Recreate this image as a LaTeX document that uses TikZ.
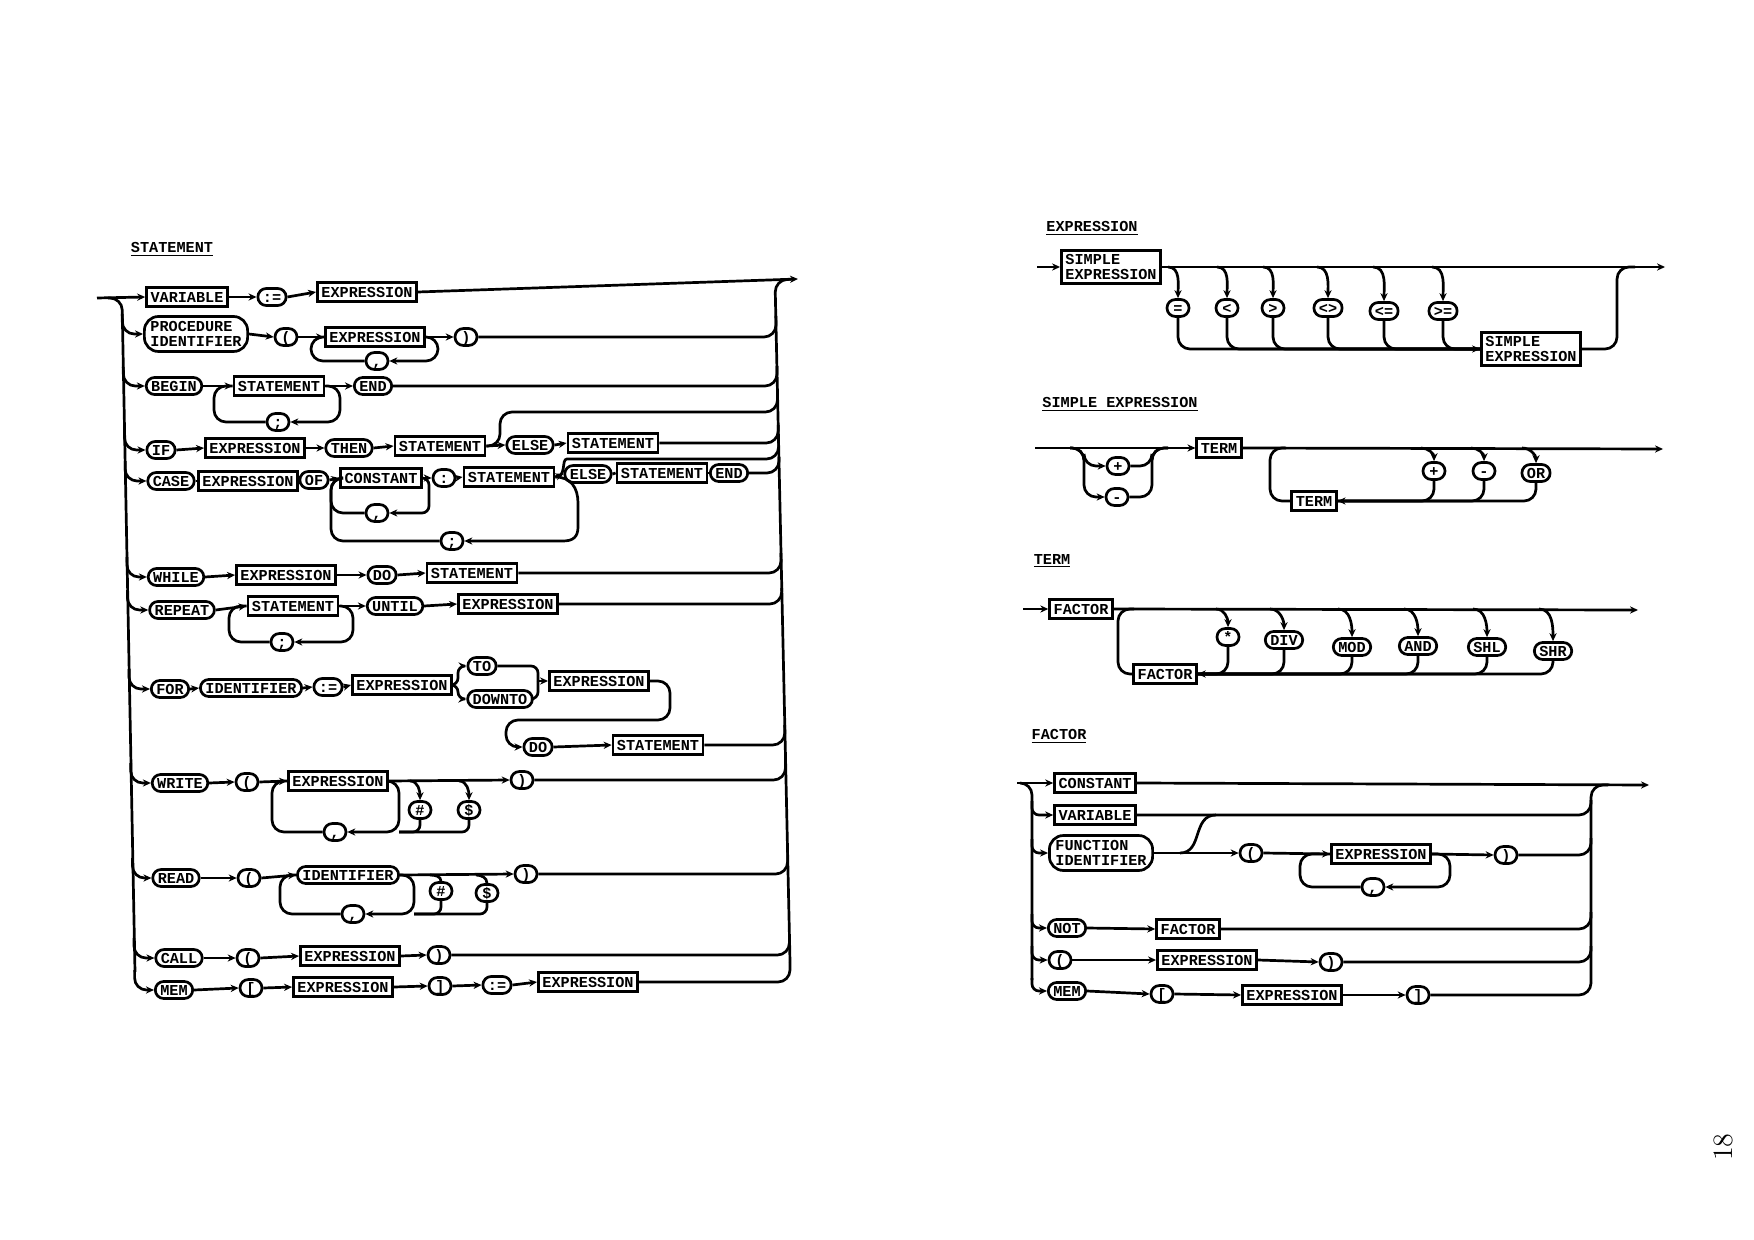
\documentclass[tikz,border=0pt]{standalone}
\usepackage{fontspec}
\setmonofont{Liberation Mono}
\usetikzlibrary{arrows.meta}
\newcommand\mylbl{\ttfamily\bfseries\fontsize{7.6}{9}\selectfont}
\newcommand\mylbltwo{\ttfamily\bfseries\fontsize{7.6}{7.4}\selectfont}
\begin{document}
\begin{tikzpicture}[x=0.5pt,y=-0.5pt,line width=1.35pt,
 bx/.style={draw,rectangle,inner xsep=2pt,inner ysep=2.2pt,text height=5.2pt,text depth=0pt,font=\mylbl},
 ov/.style={draw,rounded corners=4.2pt,minimum height=8.5pt,minimum width=11pt,inner xsep=2.5pt,inner ysep=1.6pt,text height=5.2pt,text depth=0pt,font=\mylbl},
 rb/.style={draw,rounded corners=7pt,inner xsep=3pt,inner ysep=2.5pt,align=left,font=\mylbltwo},
 bx2/.style={draw,rectangle,inner xsep=2pt,inner ysep=2pt,align=left,font=\mylbltwo},
 ttl/.style={inner sep=0pt,font=\mylbl},
 arr/.style={-{Stealth[length=4pt,width=3.6pt]}},
 rc/.style={rounded corners=6pt},
 rcs/.style={rounded corners=3.5pt}]
\useasboundingbox (0,0) rectangle (1754,1240);

% ================= STATEMENT =================
\node[ttl] (tS) at (172,249) {\underline{STATEMENT}};
\coordinate (Sin) at (97,298);
\coordinate (Sout) at (798,279);
\node[bx] (s1a) at (187,297) {VARIABLE};
\node[ov] (s1b) at (272,297) {:=};
\node[bx] (s1c) at (367,292) {EXPRESSION};

\node[rb] (s2a) at (196,334) {PROCEDURE\\IDENTIFIER};
\node[ov] (s2b) at (286,337) {(};
\node[bx] (s2c) at (375,337) {EXPRESSION};
\node[ov] (s2d) at (466,337) {)};
\node[ov] (s2e) at (377,361) {,};

\node[ov] (s3a) at (174,386) {BEGIN};
\node[bx] (s3b) at (279,386) {STATEMENT};
\node[ov] (s3c) at (373,386) {END};
\node[ov] (s3d) at (278,422) {;};

\node[ov] (s4a) at (161,450) {IF};
\node[bx] (s4b) at (255,448) {EXPRESSION};
\node[ov] (s4c) at (349,448) {THEN};
\node[bx] (s4d) at (440,446) {STATEMENT};
\node[ov] (s4e) at (530,445) {ELSE};
\node[bx] (s4f) at (613,443) {STATEMENT};

\node[ov] (s5a) at (171,481) {CASE};
\node[bx] (s5b) at (248,481) {EXPRESSION};
\node[ov] (s5c) at (314,480) {OF};
\node[bx] (s5d) at (381,478) {CONSTANT};
\node[ov] (s5e) at (444,478) {:};
\node[bx] (s5f) at (509,477) {STATEMENT};
\node[ov] (s5g) at (588,474) {ELSE};
\node[bx] (s5h) at (662,473) {STATEMENT};
\node[ov] (s5i) at (729,473) {END};
\node[ov] (s5j) at (377,513) {,};
\node[ov] (s5k) at (452,541) {;};

\node[ov] (s6a) at (176,577) {WHILE};
\node[bx] (s6b) at (286,575) {EXPRESSION};
\node[ov] (s6c) at (382,575) {DO};
\node[bx] (s6d) at (472,573) {STATEMENT};

\node[ov] (s7a) at (182,610) {REPEAT};
\node[bx] (s7b) at (293,606) {STATEMENT};
\node[ov] (s7c) at (395,606) {UNTIL};
\node[bx] (s7d) at (508,604) {EXPRESSION};
\node[ov] (s7e) at (282,642) {;};

\node[ov] (s8a) at (170,689) {FOR};
\node[ov] (s8b) at (251,688) {IDENTIFIER};
\node[ov] (s8c) at (328,687) {:=};
\node[bx] (s8d) at (402,685) {EXPRESSION};
\node[ov] (s8e) at (482,666) {TO};
\node[ov] (s8f) at (500,699) {DOWNTO};
\node[bx] (s8g) at (599,681) {EXPRESSION};
\node[ov] (s8h) at (538,747) {DO};
\node[bx] (s8i) at (658,745) {STATEMENT};

\node[ov] (s9a) at (180,783) {WRITE};
\node[ov] (s9b) at (247,782) {(};
\node[bx] (s9c) at (338,781) {EXPRESSION};
\node[ov] (s9d) at (522,780) {)};
\node[ov] (s9e) at (335,832) {,};
\node[ov] (s9f) at (420,810) {\#};
\node[ov] (s9g) at (469,810) {\$};

\node[ov] (s10a) at (176,878) {READ};
\node[ov] (s10b) at (249,878) {(};
\node[ov] (s10c) at (348,875) {IDENTIFIER};
\node[ov] (s10d) at (526,874) {)};
\node[ov] (s10e) at (353,914) {,};
\node[ov] (s10f) at (441,891) {\#};
\node[ov] (s10g) at (487,893) {\$};

\node[ov] (s11a) at (179,958) {CALL};
\node[ov] (s11b) at (248,958) {(};
\node[bx] (s11c) at (350,956) {EXPRESSION};
\node[ov] (s11d) at (439,955) {)};

\node[ov] (s12a) at (174,990) {MEM};
\node[ov] (s12b) at (251,988) {[};
\node[bx] (s12c) at (343,987) {EXPRESSION};
\node[ov] (s12d) at (440,986) {]};
\node[ov] (s12e) at (497,985) {:=};
\node[bx] (s12f) at (588,982) {EXPRESSION};

% trunk coordinates
\coordinate (Lt0) at (108,298); \coordinate (Lt1) at (122,298); \coordinate (Lb) at (135,972);
\coordinate (L2) at (122.3,314); \coordinate (L3) at (123.3,367); \coordinate (L4) at (124.5,430);
\coordinate (L5) at (125.1,461); \coordinate (L6) at (126.9,557); \coordinate (L7) at (127.5,590);
\coordinate (L8) at (129,669); \coordinate (L9) at (130.7,763); \coordinate (L10) at (132.5,858);
\coordinate (L11) at (134,938); \coordinate (L12) at (134.6,970);
\coordinate (Rt1) at (775,280); \coordinate (Rt2) at (791,279.3); \coordinate (Rb) at (790,962);
\coordinate (R2) at (776,316); \coordinate (R3) at (777,366); \coordinate (R4a) at (777.5,395);
\coordinate (R4b) at (778.2,425); \coordinate (R5a) at (778.6,443); \coordinate (R5b) at (779,457);
\coordinate (R6) at (781,553); \coordinate (R7) at (781.7,588); \coordinate (R8) at (784.8,725);
\coordinate (R9) at (785.5,760); \coordinate (R10) at (787.6,852); \coordinate (R11) at (789.4,935);

\draw[rc] (Lt0) -- (Lt1) -- (Lb);
\draw[rc] (Rb) -- (Rt1) -- (Rt2);

% row 1
\draw[arr] (Sin) -- (s1a.west);
\draw[arr] (s1a.east) -- (s1b.west);
\draw[arr] (s1b.east) -- (s1c.west);
\draw[arr] (s1c.east) -- (Sout);
% row 2
\coordinate (w2a) at (438,361); \coordinate (w2b) at (311,337);
\draw[arr,rc] (L2) |- (s2a.west);
\draw[arr] (s2a.east) -- (s2b.west);
\draw[arr] (s2b.east) -- (s2c.west);
\draw[arr] (s2c.east) -- (s2d.west);
\draw[arr,rc] (s2c.east) -| (w2a) -- (s2e.east);
\draw[rc] (s2e.west) -| (w2b) -- (s2c.west);
\draw[rc] (s2d.east) -| (R2);
% row 3
\coordinate (w3a) at (340,422); \coordinate (w3b) at (214,386);
\draw[arr,rc] (L3) |- (s3a.west);
\draw[arr] (s3a.east) -- (s3b.west);
\draw[arr] (s3b.east) -- (s3c.west);
\draw[arr,rc] (s3b.east) -| (w3a) -- (s3d.east);
\draw[rc] (s3d.west) -| (w3b) -- (s3b.west);
\draw[rc] (s3c.east) -| (R3);
% row 4
\coordinate (w4) at (500,412);
\draw[arr,rc] (L4) |- (s4a.west);
\draw[arr] (s4a.east) -- (s4b.west);
\draw[arr] (s4b.east) -- (s4c.west);
\draw[arr] (s4c.east) -- (s4d.west);
\draw[arr] (s4d.east) -- (s4e.west);
\draw[arr] (s4e.east) -- (s4f.west);
\draw[rc] (s4d.east) -| (w4) -| (R4a);
\draw[rc] (s4f.east) -| (R4b);
% row 5
\coordinate (w5a) at (429,513); \coordinate (w5b) at (331,478);
\draw[arr,rc] (L5) |- (s5a.west);
\draw (s5a.east) -- (s5b.west);
\draw (s5b.east) -- (s5c.west);
\draw[arr] (s5c.east) -- (s5d.west);
\draw[arr] (s5d.east) -- (s5e.west);
\draw[arr] (s5e.east) -- (s5f.west);
\draw[arr] (s5f.east) -- (s5g.west);
\draw (s5g.east) -- (s5h.west);
\draw (s5h.east) -- (s5i.west);
\draw[arr,rcs] (s5d.east) -| (w5a) -- (s5j.east);
\draw[rc] (s5j.west) -| (w5b) -- (s5d.west);
\draw[arr] (s5f.east) .. controls (571,477) and (578,488) .. (578,503) -- (578,527) .. controls (578,537) and (573,541) .. (563,541) -- (s5k.east);
\draw[rc] (s5k.west) -| (w5b) -- (s5d.west);
\draw[rc] (s5f.east) .. controls (567,477) and (561,459) .. (579,459) -| (R5a);
\draw[rc] (s5i.east) -| (R5b);
% row 6
\draw[arr,rc] (L6) |- (s6a.west);
\draw[arr] (s6a.east) -- (s6b.west);
\draw[arr] (s6b.east) -- (s6c.west);
\draw[arr] (s6c.east) -- (s6d.west);
\draw[rc] (s6d.east) -| (R6);
% row 7
\coordinate (w7a) at (353,642); \coordinate (w7b) at (229,606);
\draw[arr,rc] (L7) |- (s7a.west);
\draw[arr] (s7a.east) -- (s7b.west);
\draw[arr] (s7b.east) -- (s7c.west);
\draw[arr] (s7c.east) -- (s7d.west);
\draw[arr,rc] (s7b.east) -| (w7a) -- (s7e.east);
\draw[rc] (s7e.west) -| (w7b) -- (s7b.west);
\draw[rc] (s7d.east) -| (R7);
% row 8
\coordinate (q8) at (458,685); \coordinate (q8b) at (538,681);
\coordinate (w8a) at (670,720); \coordinate (w8b) at (506,747);
\draw[arr,rc] (L8) |- (s8a.west);
\draw[arr] (s8a.east) -- (s8b.west);
\draw[arr] (s8b.east) -- (s8c.west);
\draw[arr] (s8c.east) -- (s8d.west);
\draw[arr,rcs] (s8d.east) -- (q8) |- (s8e.west);
\draw[arr,rcs] (s8d.east) -- (q8) |- (s8f.west);
\draw[rcs] (s8e.east) -| (q8b);
\draw[rcs] (s8f.east) -| (q8b);
\draw[arr] (q8b) -- (s8g.west);
\draw[arr,rc] (s8g.east) -| (w8a) -| (w8b) -- (s8h.west);
\draw[arr] (s8h.east) -- (s8i.west);
\draw[rc] (s8i.east) -| (R8);
% row 9
\coordinate (b9a) at (410,781); \coordinate (b9b) at (459,781);
\coordinate (w9a) at (399,832); \coordinate (w9b) at (272,781);
\draw[arr,rc] (L9) |- (s9a.west);
\draw[arr] (s9a.east) -- (s9b.west);
\draw[arr] (s9b.east) -- (s9c.west);
\draw[arr] (s9c.east) -- (s9d.west);
\draw[arr] (b9a) to[out=0,in=90] (s9f.north);
\draw[arr] (b9b) to[out=0,in=90] (s9g.north);
\draw[arr,rc] (s9c.east) -| (w9a) -- (s9e.east);
\draw[rcs] (s9f.south) |- (w9a);
\draw[rcs] (s9g.south) |- (w9a);
\draw[rc] (s9e.west) -| (w9b) -- (s9c.west);
\draw[rc] (s9d.east) -| (R9);
% row 10
\coordinate (b10a) at (430,875); \coordinate (b10b) at (476,875);
\coordinate (w10a) at (414,914); \coordinate (w10b) at (280,875);
\draw[arr,rc] (L10) |- (s10a.west);
\draw[arr] (s10a.east) -- (s10b.west);
\draw[arr] (s10b.east) -- (s10c.west);
\draw[arr] (s10c.east) -- (s10d.west);
\draw (b10a) to[out=0,in=90] (s10f.north);
\draw (b10b) to[out=0,in=90] (s10g.north);
\draw[arr,rc] (s10c.east) -| (w10a) -- (s10e.east);
\draw[rcs] (s10f.south) |- (w10a);
\draw[rcs] (s10g.south) |- (w10a);
\draw[rc] (s10e.west) -| (w10b) -- (s10c.west);
\draw[rc] (s10d.east) -| (R10);
% row 11
\draw[arr,rc] (L11) |- (s11a.west);
\draw[arr] (s11a.east) -- (s11b.west);
\draw[arr] (s11b.east) -- (s11c.west);
\draw[arr] (s11c.east) -- (s11d.west);
\draw[rc] (s11d.east) -| (R11);
% row 12
\draw[arr,rc] (L12) |- (s12a.west);
\draw[arr] (s12a.east) -- (s12b.west);
\draw[arr] (s12b.east) -- (s12c.west);
\draw[arr] (s12c.east) -- (s12d.west);
\draw[arr] (s12d.east) -- (s12e.west);
\draw[arr] (s12e.east) -- (s12f.west);
\draw[rc] (s12f.east) -| (Rb);

% ================= EXPRESSION =================
\node[ttl] (tE) at (1092,228) {\underline{EXPRESSION}};
\coordinate (Ein) at (1037,267); \coordinate (Eout) at (1665,267);
\node[bx2] (e1) at (1111,267) {SIMPLE\\EXPRESSION};
\node[ov] (eo1) at (1178,308) {=};
\node[ov] (eo2) at (1227,308) {<};
\node[ov] (eo3) at (1273,308) {>};
\node[ov] (eo4) at (1328,308) {<>};
\node[ov] (eo5) at (1384,311) {<=};
\node[ov] (eo6) at (1443,311) {>=};
\node[bx2] (e2) at (1531,349) {SIMPLE\\EXPRESSION};
\coordinate (eb1) at (1168,267); \coordinate (eb2) at (1217,267); \coordinate (eb3) at (1263,267);
\coordinate (eb4) at (1317,267); \coordinate (eb5) at (1373,267); \coordinate (eb6) at (1432,267);
\coordinate (ej1) at (1617,267); \coordinate (ej2) at (1635,267);
\draw[arr] (Ein) -- (e1.west);
\draw[arr] (e1.east) -- (Eout);
\foreach \k in {1,...,6}{\draw[arr] (eb\k) to[out=0,in=90] (eo\k.north);}
\draw[arr,rc] (eo1.south) |- (e2.west);
\foreach \k in {2,...,6}{\draw[rc] (eo\k.south) |- (e2.west);}
\draw[rc] (e2.east) -| (ej1) -- (ej2);

% ================= SIMPLE EXPRESSION =================
\node[ttl] (tSE) at (1120,404) {\underline{SIMPLE EXPRESSION}};
\coordinate (SEin) at (1035,448); \coordinate (SEout) at (1663,449);
\node[bx] (t1) at (1219,448) {TERM};
\node[ov] (sp) at (1118,466) {+};
\node[ov] (sm) at (1117,497) {-};
\node[bx] (t2) at (1314,501) {TERM};
\node[ov] (a1) at (1434,471) {+};
\node[ov] (a2) at (1484,471) {-};
\node[ov] (a3) at (1536,473) {OR};
\coordinate (sg0) at (1070,448); \coordinate (sgp) at (1084,466); \coordinate (sgm) at (1084,497);
\coordinate (sr1) at (1152,448); \coordinate (sr2) at (1168,448);
\coordinate (tl1) at (1270,448); \coordinate (tl2) at (1286,448);
\coordinate (ab1) at (1421,448); \coordinate (ab2) at (1471,448); \coordinate (ab3) at (1522,448);
\draw[arr] (SEin) -- (t1.west);
\draw[arr] (t1.east) -- (SEout);
\draw[arr,rc] (sg0) -| (sgp) -- (sp.west);
\draw[arr,rc] (sg0) -| (sgm) -- (sm.west);
\draw[rc] (sp.east) -| (sr1) -- (sr2);
\draw[rc] (sm.east) -| (sr1) -- (sr2);
\draw[rc] (t2.west) -| (tl1) -- (tl2);
\foreach \k in {1,2,3}{\draw[arr] (ab\k) to[out=0,in=90] (a\k.north);}
\draw[arr,rc] (a3.south) |- (t2.east);
\draw[rc] (a1.south) |- (t2.east);
\draw[rc] (a2.south) |- (t2.east);

% ================= TERM =================
\node[ttl] (tT) at (1052,561) {\underline{TERM}};
\coordinate (Tin) at (1023,609); \coordinate (Tout) at (1638,610);
\node[bx] (f1) at (1081,609) {FACTOR};
\node[bx] (f2) at (1165,674) {FACTOR};
\node[ov] (m1) at (1228,637) {*};
\node[ov] (m2) at (1284,640) {DIV};
\node[ov] (m3) at (1352,647) {MOD};
\node[ov] (m4) at (1418,646) {AND};
\node[ov] (m5) at (1487,647) {SHL};
\node[ov] (m6) at (1553,651) {SHR};
\coordinate (tf1) at (1118,609); \coordinate (tf2) at (1134,609);
\coordinate (mb1) at (1216,609); \coordinate (mb2) at (1270,609); \coordinate (mb3) at (1338,609);
\coordinate (mb4) at (1404,609); \coordinate (mb5) at (1473,609); \coordinate (mb6) at (1539,609);
\draw[arr] (Tin) -- (f1.west);
\draw[arr] (f1.east) -- (Tout);
\draw[rc] (f2.west) -| (tf1) -- (tf2);
\foreach \k in {1,...,6}{\draw[arr] (mb\k) to[out=0,in=90] (m\k.north);}
\draw[arr,rc] (m6.south) |- (f2.east);
\foreach \k in {1,...,5}{\draw[rc] (m\k.south) |- (f2.east);}

% ================= FACTOR =================
\node[ttl] (tF) at (1059,736) {\underline{FACTOR}};
\coordinate (Fin) at (1017,783); \coordinate (Fout) at (1649,785);
\node[bx] (c1) at (1095,783) {CONSTANT};
\node[bx] (c2) at (1095,815) {VARIABLE};
\node[rb] (c3) at (1101,853) {FUNCTION\\IDENTIFIER};
\node[ov] (c7) at (1251,853) {(};
\node[bx] (c8) at (1381,854) {EXPRESSION};
\node[ov] (c9) at (1506,855) {)};
\node[ov] (c10) at (1373,887) {,};
\node[ov] (c4) at (1067,928) {NOT};
\node[bx] (c11) at (1188,929) {FACTOR};
\node[ov] (c5) at (1060,960) {(};
\node[bx] (c12) at (1207,960) {EXPRESSION};
\node[ov] (c13) at (1331,962) {)};
\node[ov] (c6) at (1067,991) {MEM};
\node[ov] (c14) at (1162,994) {[};
\node[bx] (c15) at (1292,995) {EXPRESSION};
\node[ov] (c16) at (1418,995) {]};
\coordinate (Ft0) at (1020,783); \coordinate (Ft1) at (1032,783); \coordinate (Fb) at (1032,980);
\coordinate (F2) at (1032,801); \coordinate (F3) at (1032,839); \coordinate (F4) at (1032,914);
\coordinate (F5) at (1032,946); \coordinate (F6) at (1032,978);
\coordinate (FRb) at (1591,982); \coordinate (FRt) at (1591,785); \coordinate (FRt2) at (1608,785);
\coordinate (FR2) at (1591,800); \coordinate (FR3) at (1591,838); \coordinate (FR4) at (1591,912);
\coordinate (FR5) at (1591,946);
\coordinate (fk1) at (1180,853); \coordinate (fk2) at (1216,815);
\coordinate (fl1) at (1450,887); \coordinate (fl2) at (1300,854);
\draw[arr] (Fin) -- (c1.west);
\draw[arr] (c1.east) -- (Fout);
\draw[rc] (Ft0) -- (Ft1) -- (Fb);
\draw[rc] (FRb) -- (FRt) -- (FRt2);
\draw[arr,rcs] (F2) |- (c2.west);
\draw[arr,rcs] (F3) |- (c3.west);
\draw[arr,rcs] (F4) |- (c4.west);
\draw[arr,rcs] (F5) |- (c5.west);
\draw[arr,rcs] (F6) |- (c6.west);
\draw[arr] (c3.east) -- (c7.west);
\draw (fk1) .. controls (1203,853) and (1192,815) .. (fk2);
\draw[arr] (c7.east) -- (c8.west);
\draw[arr] (c8.east) -- (c9.west);
\draw[arr,rc] (c8.east) -| (fl1) -- (c10.east);
\draw[rc] (c10.west) -| (fl2) -- (c8.west);
\draw[arr] (c4.east) -- (c11.west);
\draw[arr] (c5.east) -- (c12.west);
\draw[arr] (c12.east) -- (c13.west);
\draw[arr] (c6.east) -- (c14.west);
\draw[arr] (c14.east) -- (c15.west);
\draw[arr] (c15.east) -- (c16.west);
\draw[rc] (c2.east) -| (FR2);
\draw[rc] (c9.east) -| (FR3);
\draw[rc] (c11.east) -| (FR4);
\draw[rc] (c13.east) -| (FR5);
\draw[rc] (c16.east) -| (FRb);

% page number
\node[rotate=90,font=\fontsize{14}{14}\selectfont] (pg) at (1723,1147) {18};
\end{tikzpicture}
\end{document}
